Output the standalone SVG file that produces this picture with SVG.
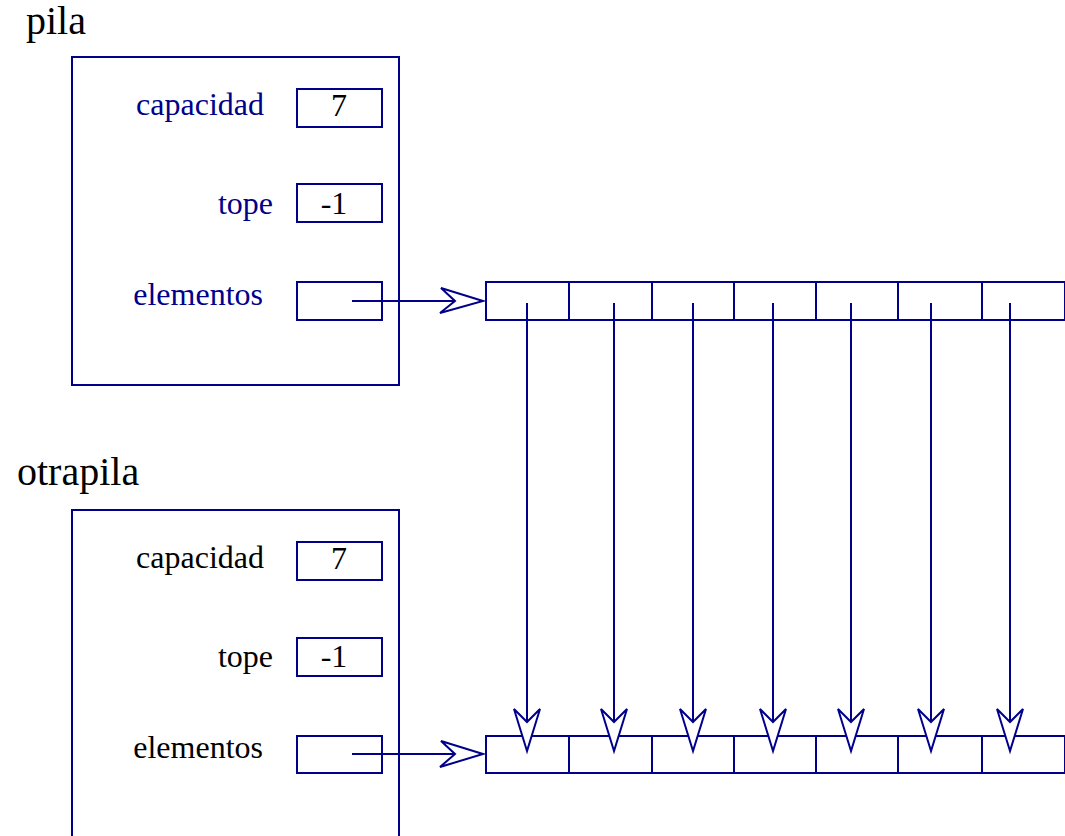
<svg xmlns="http://www.w3.org/2000/svg" width="1065" height="836" viewBox="0 0 1065 836">
  <style>
    .frame { fill: none; stroke: #00008b; stroke-width: 2; }
    .cell { fill: #ffffff; stroke: #00008b; stroke-width: 2; }
    .link { fill: none; stroke: #00008b; stroke-width: 2; }
    .head { fill: #ffffff; stroke: #00008b; stroke-width: 2; stroke-linejoin: miter; }
    .title { font-family: "Liberation Serif", "Times New Roman", serif; font-size: 40px; fill: #000000; }
    .field { font-family: "Liberation Serif", "Times New Roman", serif; font-size: 32px; text-anchor: end; }
    .val { font-family: "Liberation Serif", "Times New Roman", serif; font-size: 32px; fill: #000000; text-anchor: middle; }
  </style>

  <!-- stack "pila" -->
  <g id="pila">
    <text class="title" x="26" y="34">pila</text>
    <rect class="frame" x="72" y="57" width="327" height="328"/>
    <text class="field" x="264" y="115" fill="#00008b">capacidad</text>
    <rect class="cell" x="297" y="89" width="85" height="38"/>
    <text class="val" x="339" y="116">7</text>
    <text class="field" x="273" y="214" fill="#00008b">tope</text>
    <rect class="cell" x="297" y="184" width="85" height="38"/>
    <text class="val" x="334" y="214">-1</text>
    <text class="field" x="263" y="305" fill="#00008b">elementos</text>
    <rect class="cell" x="297" y="282" width="85" height="38"/>
  </g>

  <!-- stack "otrapila" -->
  <g id="otrapila">
    <text class="title" x="17" y="485">otrapila</text>
    <rect class="frame" x="72" y="510" width="327" height="340"/>
    <text class="field" x="264" y="568" fill="#000000">capacidad</text>
    <rect class="cell" x="297" y="542" width="85" height="38"/>
    <text class="val" x="339" y="569">7</text>
    <text class="field" x="273" y="667" fill="#000000">tope</text>
    <rect class="cell" x="297" y="638" width="85" height="38"/>
    <text class="val" x="334" y="667">-1</text>
    <text class="field" x="263" y="758" fill="#000000">elementos</text>
    <rect class="cell" x="297" y="736" width="85" height="37"/>
  </g>

  <!-- array referenced by pila -->
  <g id="array-top">
    <rect class="cell" x="486" y="282" width="600" height="38"/>
    <path class="link" d="M569 282V320M652 282V320M734 282V320M816 282V320M898 282V320M982 282V320M1065 282V320"/>
  </g>

  <!-- array referenced by otrapila -->
  <g id="array-bottom">
    <rect class="cell" x="486" y="736" width="600" height="37"/>
    <path class="link" d="M569 736V773M652 736V773M734 736V773M816 736V773M898 736V773M982 736V773M1065 736V773"/>
  </g>

  <!-- connectors -->
  <g id="connectors">
    <path class="link" d="M352 301H455"/>
    <path class="head" d="M483 301L441 288L455 301L440 313Z"/>
    <path class="link" d="M352 754H455"/>
    <path class="head" d="M483 754L441 741L455 754L440 767Z"/>

    <path class="link" d="M527 303V722"/>
    <path class="head" d="M527 751L514 709L527 722L540 709Z"/>
    <path class="link" d="M614 303V722"/>
    <path class="head" d="M614 751L601 709L614 722L627 709Z"/>
    <path class="link" d="M693 303V722"/>
    <path class="head" d="M693 751L680 709L693 722L706 709Z"/>
    <path class="link" d="M773 303V722"/>
    <path class="head" d="M773 751L760 709L773 722L786 709Z"/>
    <path class="link" d="M851 303V722"/>
    <path class="head" d="M851 751L838 709L851 722L864 709Z"/>
    <path class="link" d="M931 303V722"/>
    <path class="head" d="M931 751L918 709L931 722L944 709Z"/>
    <path class="link" d="M1010 303V722"/>
    <path class="head" d="M1010 751L997 709L1010 722L1023 709Z"/>
  </g>
</svg>
